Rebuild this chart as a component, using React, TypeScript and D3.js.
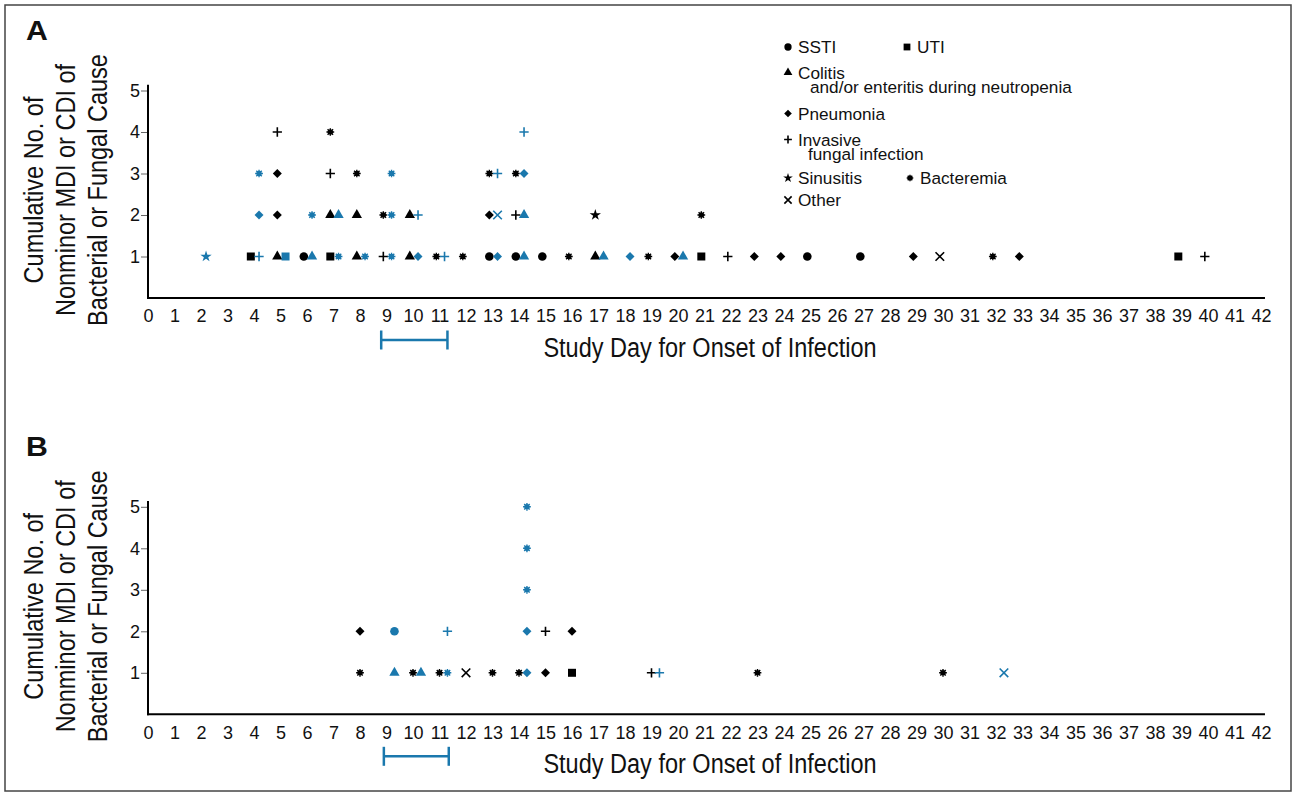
import React, { useEffect, useRef } from "react";
import * as d3 from "d3";

const FONT = "'Liberation Sans', Arial, Helvetica, sans-serif";
const BLUE = "#1a78ad";
const BLACK = "#000";

const dayTicks = d3.range(0, 43);
const countTicks = [1, 2, 3, 4, 5];

// [study day, cumulative count, infection type, colour group]
type Pt = [number, number, string, "k" | "b"];

const panelAPoints: Pt[] = [
  [2, 1, "star", "b"], [4, 1, "square", "k"], [4, 1, "plus", "b"], [5, 1, "tri", "k"],
  [5, 1, "square", "b"], [6, 1, "circle", "k"], [6, 1, "tri", "b"], [7, 1, "square", "k"],
  [7, 1, "bact", "b"], [8, 1, "tri", "k"], [8, 1, "bact", "b"], [9, 1, "plus", "k"],
  [9, 1, "bact", "b"], [10, 1, "tri", "k"], [10, 1, "diamond", "b"], [11, 1, "bact", "k"],
  [11, 1, "plus", "b"], [12, 1, "bact", "k"], [13, 1, "circle", "k"], [13, 1, "diamond", "b"],
  [14, 1, "circle", "k"], [14, 1, "tri", "b"], [15, 1, "circle", "k"], [16, 1, "bact", "k"],
  [17, 1, "tri", "k"], [17, 1, "tri", "b"], [18, 1, "diamond", "b"], [19, 1, "bact", "k"],
  [20, 1, "diamond", "k"], [20, 1, "tri", "b"], [21, 1, "square", "k"], [22, 1, "plus", "k"],
  [23, 1, "diamond", "k"], [24, 1, "diamond", "k"], [25, 1, "circle", "k"], [27, 1, "circle", "k"],
  [29, 1, "diamond", "k"], [30, 1, "times", "k"], [32, 1, "bact", "k"], [33, 1, "diamond", "k"],
  [39, 1, "square", "k"], [40, 1, "plus", "k"],
  [4, 2, "diamond", "b"], [5, 2, "diamond", "k"], [6, 2, "bact", "b"], [7, 2, "tri", "k"],
  [7, 2, "tri", "b"], [8, 2, "tri", "k"], [9, 2, "bact", "k"], [9, 2, "bact", "b"],
  [10, 2, "tri", "k"], [10, 2, "plus", "b"], [13, 2, "diamond", "k"], [13, 2, "times", "b"],
  [14, 2, "plus", "k"], [14, 2, "tri", "b"], [17, 2, "star", "k"], [21, 2, "bact", "k"],
  [4, 3, "bact", "b"], [5, 3, "diamond", "k"], [7, 3, "plus", "k"], [8, 3, "bact", "k"],
  [9, 3, "bact", "b"], [13, 3, "bact", "k"], [13, 3, "plus", "b"], [14, 3, "bact", "k"],
  [14, 3, "diamond", "b"],
  [5, 4, "plus", "k"], [7, 4, "bact", "k"], [14, 4, "plus", "b"]
];

const panelBPoints: Pt[] = [
  [8, 1, "bact", "k"], [9, 1, "tri", "b"], [10, 1, "bact", "k"], [10, 1, "tri", "b"],
  [11, 1, "bact", "k"], [11, 1, "bact", "b"], [12, 1, "times", "k"], [13, 1, "bact", "k"],
  [14, 1, "bact", "k"], [14, 1, "diamond", "b"], [15, 1, "diamond", "k"], [16, 1, "square", "k"],
  [19, 1, "plus", "k"], [19, 1, "plus", "b"], [23, 1, "bact", "k"], [30, 1, "bact", "k"],
  [32, 1, "times", "b"],
  [8, 2, "diamond", "k"], [9, 2, "circle", "b"], [11, 2, "plus", "b"], [14, 2, "diamond", "b"],
  [15, 2, "plus", "k"], [16, 2, "diamond", "k"],
  [14, 3, "bact", "b"], [14, 4, "bact", "b"], [14, 5, "bact", "b"]
];

// engraftment window drawn under the axis
const bracketA = [8.8, 11.3];
const bracketB = [8.9, 11.35];

const legendLabels: Record<string, string[]> = {
  circle: ["SSTI"],
  square: ["UTI"],
  tri: ["Colitis", "and/or enteritis during neutropenia"],
  diamond: ["Pneumonia"],
  plus: ["Invasive", "fungal infection"],
  star: ["Sinusitis"],
  bact: ["Bacteremia"],
  times: ["Other"]
};

const yTitle = ["Cumulative No. of", "Nonminor MDI or CDI of", "Bacterial or Fungal Cause"];

// 8-spoke burst used for bacteremia
const burst = {
  draw(ctx: any, size: number) {
    const r = Math.sqrt(size) / 2;
    for (let i = 0; i < 4; i++) {
      const a = (i * Math.PI) / 4;
      ctx.moveTo(-r * Math.cos(a), -r * Math.sin(a));
      ctx.lineTo(r * Math.cos(a), r * Math.sin(a));
    }
    const rc = r * 0.55;
    ctx.moveTo(rc, 0);
    ctx.arc(0, 0, rc, 0, Math.PI * 2);
  }
};

const shapes: Record<string, any> = {
  circle: { type: d3.symbolCircle, size: 58, fill: true },
  square: { type: d3.symbolSquare, size: 64, fill: true },
  tri: { type: d3.symbolTriangle, size: 46, fill: true },
  diamond: { type: d3.symbolSquare, size: 40, fill: true, rot: 45 },
  plus: { type: d3.symbolPlus, size: 30, fill: false },
  times: { type: d3.symbolTimes, size: 50, fill: false },
  star: { type: d3.symbolStar, size: 40, fill: true },
  bact: { type: burst, size: 60, fill: true, both: true }
};

function Marker({ kind, x, y, color, scale = 1 }: any) {
  const s = shapes[kind];
  const d = d3.symbol().type(s.type).size(s.size * scale * scale)() as string;
  return (
    <path
      d={d}
      transform={`translate(${x},${y})${s.rot ? ` rotate(${s.rot})` : ""}`}
      fill={s.fill ? color : "none"}
      stroke={s.fill && !s.both ? "none" : color}
      strokeWidth={s.both ? 1.4 : 1.6}
    />
  );
}

const xScale = d3.scaleLinear().domain([0, 42]).range([148, 1261]);

function Panel({ label, points, y0, dodge, bracket }: any) {
  const yScale = d3.scaleLinear().domain([0, 5]).range([y0, y0 - 207.5]);
  const xRef = useRef<SVGGElement>(null);
  const yRef = useRef<SVGGElement>(null);

  useEffect(() => {
    const gx = d3.select(xRef.current!).call(
      d3.axisBottom(xScale).tickValues(dayTicks).tickSize(0).tickPadding(11.5).tickFormat(d3.format("d")) as any
    );
    gx.select(".domain").remove();
    gx.selectAll("text").attr("font-size", 18).attr("font-family", FONT).attr("fill", "#111");

    const gy = d3.select(yRef.current!).call(
      d3.axisLeft(yScale).tickValues(countTicks).tickSize(7).tickPadding(1).tickFormat(d3.format("d")) as any
    );
    gy.select(".domain").remove();
    gy.selectAll("line").attr("stroke", "#666");
    gy.selectAll("text").attr("font-size", 18).attr("font-family", FONT).attr("fill", "#111");
  }, []);

  const titleMid = y0 - 108;
  const by = y0 + 42;
  const ly = y0 - 258;

  return (
    <g>
      <text transform={`translate(26,${ly}) scale(1.12,1)`} fontFamily={FONT} fontWeight="bold"
        fontSize={27} fill="#111">
        {label}
      </text>
      {yTitle.map((t, i) => (
        <text key={i} transform={`translate(${33 + i * 32},${titleMid}) rotate(-90) scale(0.84,1)`}
          textAnchor="middle" dy="0.36em" fontFamily={FONT} fontSize={28} fill="#111">
          {t}
        </text>
      ))}
      <g ref={yRef} transform="translate(148,0)" />
      <g ref={xRef} transform={`translate(0,${y0})`} />
      <line x1={148} x2={148} y1={yScale(5.14)} y2={y0 + 1} stroke="#000" strokeWidth={2} />
      <line x1={147} x2={xScale(42.15)} y1={y0} y2={y0} stroke="#000" strokeWidth={2} />
      <text transform={`translate(710,${y0 + 59}) scale(0.84,1)`} textAnchor="middle"
        fontFamily={FONT} fontSize={28} fill="#111">
        Study Day for Onset of Infection
      </text>
      <g stroke={BLUE} strokeWidth={2.5} fill="none">
        <line x1={xScale(bracket[0])} x2={xScale(bracket[1])} y1={by} y2={by} />
        <line x1={xScale(bracket[0])} x2={xScale(bracket[0])} y1={by - 9.5} y2={by + 9.5} />
        <line x1={xScale(bracket[1])} x2={xScale(bracket[1])} y1={by - 9.5} y2={by + 9.5} />
      </g>
      {points.map((p: Pt, i: number) => (
        <Marker key={i} kind={p[2]}
          x={xScale(p[0] + (p[3] === "b" ? dodge[1] : dodge[0]))}
          y={yScale(p[1])}
          color={p[3] === "b" ? BLUE : BLACK} />
      ))}
    </g>
  );
}

function Legend() {
  const item = (k: string, x: number, y: number, indent = 20) => {
    const lines = legendLabels[k];
    return (
      <g key={k}>
        <Marker kind={k} x={x} y={y} color={BLACK} scale={0.85} />
        <text x={x + 10} y={y} dy="0.35em" fontFamily={FONT} fontSize={17.2} fill="#111">
          {lines[0]}
          {lines[1] && (
            <tspan x={x + indent} dy={14.8}>{lines[1]}</tspan>
          )}
        </text>
      </g>
    );
  };
  return (
    <g>
      {item("circle", 788, 47)}
      {item("square", 907, 47)}
      {item("tri", 788, 72.5, 22)}
      {item("diamond", 788, 113.5)}
      {item("plus", 788, 139.5, 20)}
      {item("star", 788, 178)}
      {item("bact", 910, 178)}
      {item("times", 788, 200)}
    </g>
  );
}

export default function App() {
  return (
    <svg width={1297} height={797} style={{ position: "absolute", left: 0, top: 0, background: "#fff" }}>
      <rect x={5} y={5} width={1286} height={786} fill="#fff" stroke="#444" strokeWidth={1.5} />
      <Panel label="A" points={panelAPoints} y0={298} dodge={[-0.12, 0.19]} bracket={bracketA} />
      <Panel label="B" points={panelBPoints} y0={714.3} dodge={[0, 0.3]} bracket={bracketB} />
      <Legend />
    </svg>
  );
}
